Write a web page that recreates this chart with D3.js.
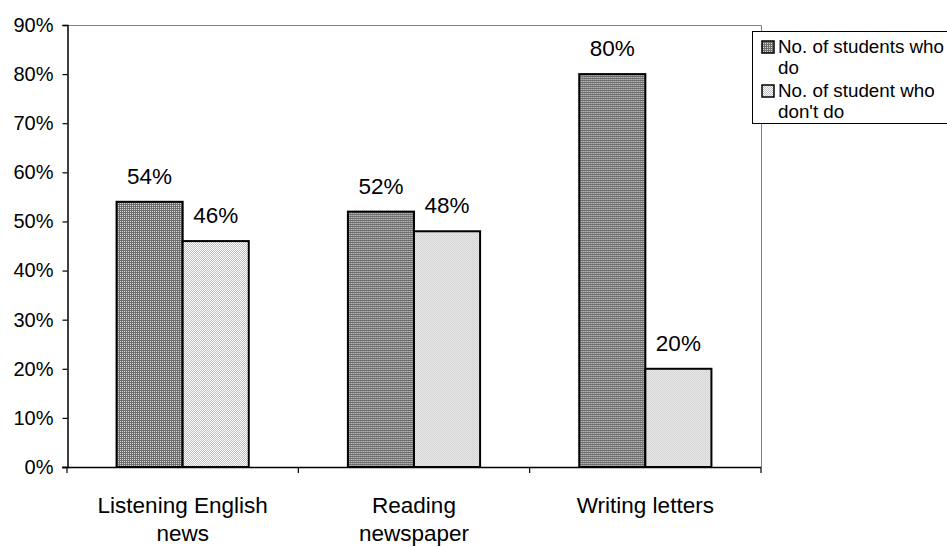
<!DOCTYPE html>
<html>
<head>
<meta charset="utf-8">
<script src="https://cdn.jsdelivr.net/npm/d3@7"></script>
<style>
  html, body { margin: 0; padding: 0; background: #fff; }
  svg { display: block; font-family: "Liberation Sans", Arial, sans-serif; }
</style>
</head>
<body>
<svg id="chart" width="947" height="547"></svg>
<script>
// Survey activities and the share of students who do / don't do them
const categories = [["Listening English", "news"], ["Reading", "newspaper"], ["Writing letters"]];
const seriesNames = ["No. of students who do", "No. of student who don't do"];
const legendLines = [["No. of students who", "do"], ["No. of student who", "don't do"]];
const doValues = [0.54, 0.52, 0.80];
const dontValues = [0.46, 0.48, 0.20];
const yTicks = [0, 0.1, 0.2, 0.3, 0.4, 0.5, 0.6, 0.7, 0.8, 0.9];

const svg = d3.select("#chart");
const plot = { left: 67, right: 761, top: 25, bottom: 467 };

// Fill patterns: a dark fine grid and a light dotted screen
const defs = svg.append("defs");
const pDark = defs.append("pattern").attr("id", "patDark")
  .attr("width", 2).attr("height", 2).attr("patternUnits", "userSpaceOnUse");
pDark.append("rect").attr("width", 2).attr("height", 2).attr("fill", "#6e6e6e");
pDark.append("rect").attr("x", 1).attr("y", 1).attr("width", 1).attr("height", 1).attr("fill", "#d8d8d8");
const pLight = defs.append("pattern").attr("id", "patLight")
  .attr("width", 2).attr("height", 2).attr("patternUnits", "userSpaceOnUse");
pLight.append("rect").attr("width", 2).attr("height", 2).attr("fill", "#ffffff");
pLight.append("rect").attr("x", 0).attr("y", 0).attr("width", 1).attr("height", 1).attr("fill", "#bdbdbd");
pLight.append("rect").attr("x", 1).attr("y", 1).attr("width", 1).attr("height", 1).attr("fill", "#bdbdbd");
const fills = ["url(#patDark)", "url(#patLight)"];

const x0 = d3.scaleBand().domain(d3.range(categories.length)).range([plot.left, plot.right]).padding(0);
const x1 = d3.scaleBand().domain([0, 1]).range([0, x0.bandwidth()]).paddingInner(0).paddingOuter(0.75);
const y = d3.scaleLinear().domain([0, 0.9]).range([plot.bottom, plot.top]);

// Plot area frame (top and right)
svg.append("path")
  .attr("d", `M${plot.left},${plot.top + 0.5}H${plot.right + 0.5}V${plot.bottom}`)
  .attr("fill", "none").attr("stroke", "#808080").attr("stroke-width", 1);

// Bars
const rows = categories.map((c, i) => [doValues[i], dontValues[i]]);
const groups = svg.append("g").selectAll("g").data(rows).join("g")
  .attr("transform", (d, i) => `translate(${x0(i)},0)`);
groups.selectAll("rect").data(d => d.map((v, s) => ({ v, s }))).join("rect")
  .attr("x", d => x1(d.s))
  .attr("y", d => y(d.v))
  .attr("width", x1.bandwidth())
  .attr("height", d => y(0) - y(d.v))
  .attr("fill", d => fills[d.s])
  .attr("stroke", "#000").attr("stroke-width", 2);

// Value labels
groups.selectAll("text").data(d => d.map((v, s) => ({ v, s }))).join("text")
  .attr("x", d => x1(d.s) + x1.bandwidth() / 2)
  .attr("y", d => y(d.v) - 18)
  .attr("text-anchor", "middle")
  .attr("font-size", 22.5)
  .attr("fill", "#000")
  .text(d => d3.format(".0%")(d.v));

// Y axis
const yAxis = d3.axisLeft(y).tickValues(yTicks).tickFormat(d3.format(".0%")).tickSize(5).tickPadding(9);
const gy = svg.append("g").attr("transform", `translate(${plot.left + 0.5},0)`).call(yAxis);
gy.select(".domain").attr("stroke", "#000").attr("stroke-width", 1.5);
gy.selectAll(".tick line").attr("stroke", "#000").attr("stroke-width", 1.2);
gy.selectAll(".tick text").attr("font-size", 20).attr("font-family", "Liberation Sans, Arial, sans-serif").attr("fill", "#000");

// X axis with ticks at category boundaries
const bounds = d3.range(categories.length + 1).map(i => plot.left + i * x0.step());
const gx = svg.append("g");
gx.append("line").attr("x1", plot.left - 5).attr("x2", plot.right)
  .attr("y1", plot.bottom + 0.5).attr("y2", plot.bottom + 0.5)
  .attr("stroke", "#000").attr("stroke-width", 1.5);
gx.selectAll("line.tk").data(bounds).join("line").attr("class", "tk")
  .attr("x1", d => d).attr("x2", d => d)
  .attr("y1", plot.bottom).attr("y2", plot.bottom + 6)
  .attr("stroke", "#000").attr("stroke-width", 1.2);
gx.selectAll("text").data(categories).join("text")
  .attr("text-anchor", "middle")
  .attr("font-size", 22.5)
  .attr("fill", "#000")
  .each(function (lines, i) {
    const t = d3.select(this);
    lines.forEach((ln, k) => {
      t.append("tspan").attr("x", x0(i) + x0.bandwidth() / 2).attr("y", 513 + k * 28).text(ln);
    });
  });

// Legend
const lg = svg.append("g");
lg.append("rect").attr("x", 752.5).attr("y", 31.5).attr("width", 200).attr("height", 92)
  .attr("fill", "#fff").attr("stroke", "#000").attr("stroke-width", 1);
legendLines.forEach((lines, s) => {
  const base = 53 + s * 44;
  lg.append("rect").attr("x", 762).attr("y", base - 12).attr("width", 12).attr("height", 12)
    .attr("fill", fills[s]).attr("stroke", "#000").attr("stroke-width", 1.5)
    .append("title").text(seriesNames[s]);
  const t = lg.append("text").attr("font-size", 18.8).attr("fill", "#000");
  lines.forEach((ln, k) => {
    t.append("tspan").attr("x", 778).attr("y", base + k * 21).text(ln);
  });
});
</script>
</body>
</html>
